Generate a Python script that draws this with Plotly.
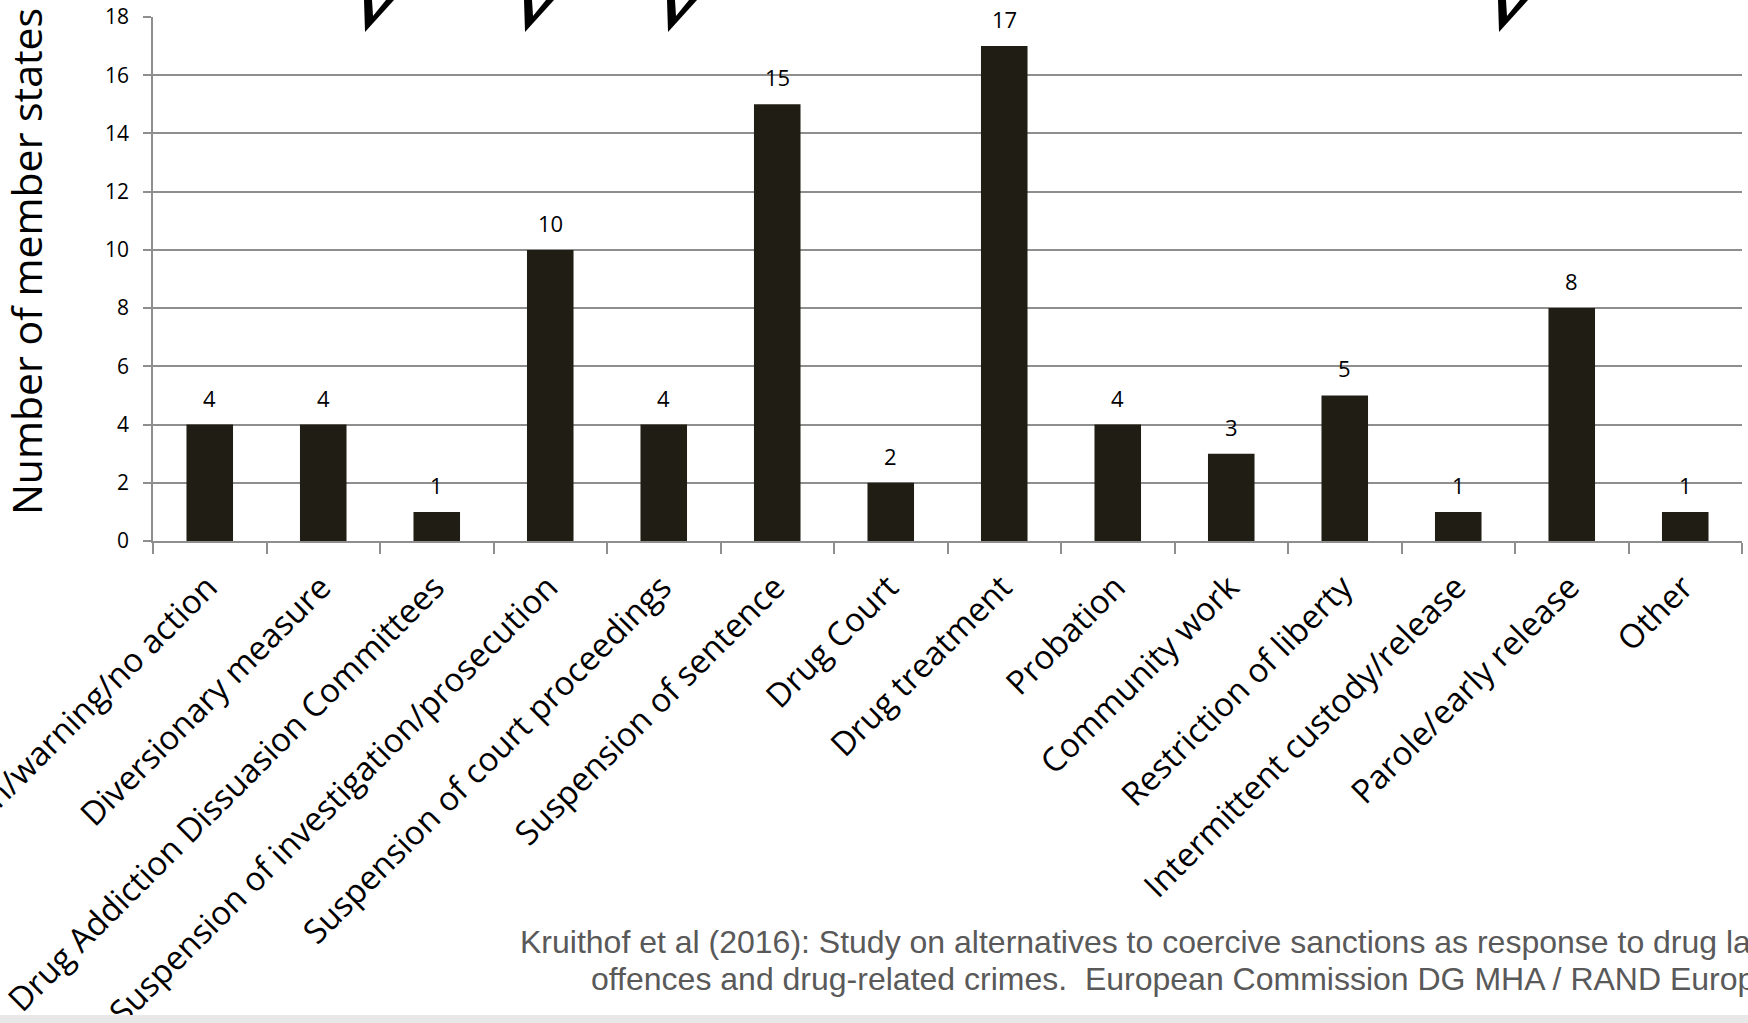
import plotly.graph_objects as go

categories = [
    "Caution/warning/no action",
    "Diversionary measure",
    "Drug Addiction Dissuasion Committees",
    "Suspension of investigation/prosecution",
    "Suspension of court proceedings",
    "Suspension of sentence",
    "Drug Court",
    "Drug treatment",
    "Probation",
    "Community work",
    "Restriction of liberty",
    "Intermittent custody/release",
    "Parole/early release",
    "Other",
]
member_states = [4, 4, 1, 10, 4, 15, 2, 17, 4, 3, 5, 1, 8, 1]
y_ticks = [0, 2, 4, 6, 8, 10, 12, 14, 16, 18]
y_title = "Number of member states"
source_line1 = "Kruithof et al (2016): Study on alternatives to coercive sanctions as response to drug law"
source_line2 = "offences and drug-related crimes.  European Commission DG MHA / RAND Europe"

W, H = 1748, 1023
ML, MR, MT, MB = 153, 6, 17, 482
PW, PH = W - ML - MR, H - MT - MB


def px(xp):
    return (xp - ML) / PW


def py(yp):
    return (H - MB - yp) / PH


GRID = "#8e8e8e"
BAR = "#201e14"

fig = go.Figure()
fig.add_trace(go.Bar(
    x=categories,
    y=member_states,
    marker=dict(color=BAR, line=dict(width=0)),
    width=0.41,
    hoverinfo="x+y",
))

annotations = []
for c, v in zip(categories, member_states):
    annotations.append(dict(
        x=c, y=v, xref="x", yref="y", text=str(v), showarrow=False,
        yshift=27, font=dict(family="Open Sans", size=22, color="#000000"),
        xanchor="center", yanchor="middle",
    ))

annotations.append(dict(
    x=px(26), y=py(262), xref="paper", yref="paper", text=y_title,
    showarrow=False, textangle=-90,
    font=dict(family="Open Sans", size=41, color="#000000"),
    xanchor="center", yanchor="middle",
))
annotations.append(dict(
    x=px(518), y=py(942), xref="paper", yref="paper", text=source_line1,
    showarrow=False, xanchor="left", yanchor="middle",
    font=dict(family="Liberation Sans, Arial, sans-serif", size=32, color="#595959"),
))
annotations.append(dict(
    x=px(589), y=py(979), xref="paper", yref="paper", text=source_line2,
    showarrow=False, xanchor="left", yanchor="middle",
    font=dict(family="Liberation Sans, Arial, sans-serif", size=32, color="#595959"),
))

shapes = []
# bottom grey band
shapes.append(dict(type="rect", xref="paper", yref="paper",
                   x0=px(0), x1=px(W), y0=py(1015), y1=py(H),
                   fillcolor="#e8e8e8", line=dict(width=0), layer="above"))
# cut-off arrow tips at the top
for ax in [364, 524, 667, 1498]:
    outer = f"M {px(ax)},{py(0)} L {px(ax+1)},{py(32)} L {px(ax+30)},{py(0)} Z"
    inner = f"M {px(ax+8)},{py(0)} L {px(ax+9)},{py(16)} L {px(ax+22)},{py(0)} Z"
    shapes.append(dict(type="path", xref="paper", yref="paper", path=outer,
                       fillcolor="#000000", line=dict(width=0), layer="above"))
    shapes.append(dict(type="path", xref="paper", yref="paper", path=inner,
                       fillcolor="#ffffff", line=dict(width=0), layer="above"))

fig.update_layout(
    width=W, height=H,
    margin=dict(l=ML, r=MR, t=MT, b=MB, pad=0, autoexpand=False),
    paper_bgcolor="#ffffff", plot_bgcolor="#ffffff",
    showlegend=False,
    annotations=annotations,
    shapes=shapes,
    xaxis=dict(
        type="category",
        automargin=False,
        tickangle=-45,
        tickson="boundaries",
        ticks="outside", ticklen=11, tickwidth=1.5, tickcolor=GRID,
        showline=True, linecolor=GRID, linewidth=1.5,
        showgrid=False,
        tickfont=dict(family="Open Sans", size=33, color="#000000"),
        ticklabelstandoff=12,
        ticklabelshift=-2,
        range=[-0.5, len(categories) - 0.5],
    ),
    yaxis=dict(
        automargin=False,
        range=[0, 18],
        tickvals=y_ticks,
        ticks="outside", ticklen=8, tickwidth=1.5, tickcolor=GRID,
        showline=True, linecolor=GRID, linewidth=1.5,
        showgrid=True, gridcolor=GRID, gridwidth=1.5,
        zeroline=False,
        tickfont=dict(family="Open Sans", size=21, color="#000000"),
        ticklabelstandoff=10,
    ),
)

fig.write_html("out.html")
